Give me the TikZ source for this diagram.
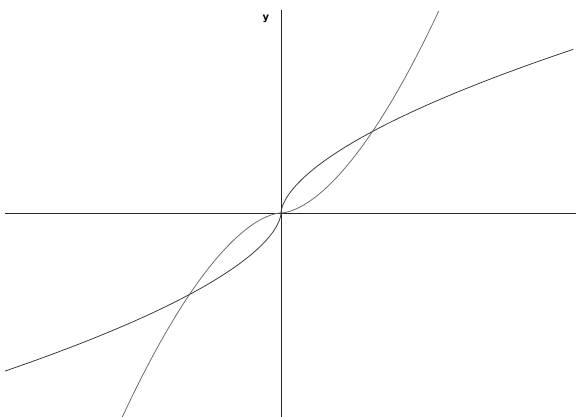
\documentclass[tikz,border=0pt]{standalone}
\usepackage{fontspec}
\setsansfont{DejaVu Sans}
\begin{document}
\begin{tikzpicture}[x=91.5pt,y=81.5pt,
  axis/.style={draw=black!85,line width=0.8pt},
  curveA/.style={draw=black!60,line width=0.75pt,smooth,samples=300},
  curveB/.style={draw=black!80,line width=0.75pt,smooth,samples=300},
  declare function={g(\t)=sign(\t)*exp(5/3*ln(abs(\t)+0.00001));}]
\fill[white] (-3.071,-2.503) rectangle (3.224,2.613);
\useasboundingbox (-3.071,-2.503) rectangle (3.224,2.613);
\coordinate (xl) at (-3.016,0);
\coordinate (xr) at (3.224,0);
\coordinate (yb) at (0,-2.503);
\coordinate (yt) at (0,2.491);
\draw[axis] (xl) -- (xr);
\draw[axis] (yb) -- (yt);
\node[font=\sffamily\bfseries\fontsize{10}{11}\selectfont,inner sep=0pt] (ylab) at (-0.164,2.385) {y};
% y = x^(5/3)
\draw[curveA] plot[domain=-1.74:1.725] (\x,{g(\x)});
% y = x^(3/5)
\draw[curveB] plot[domain=-1.939:2.012] ({g(\x)},\x);
\end{tikzpicture}
\end{document}
